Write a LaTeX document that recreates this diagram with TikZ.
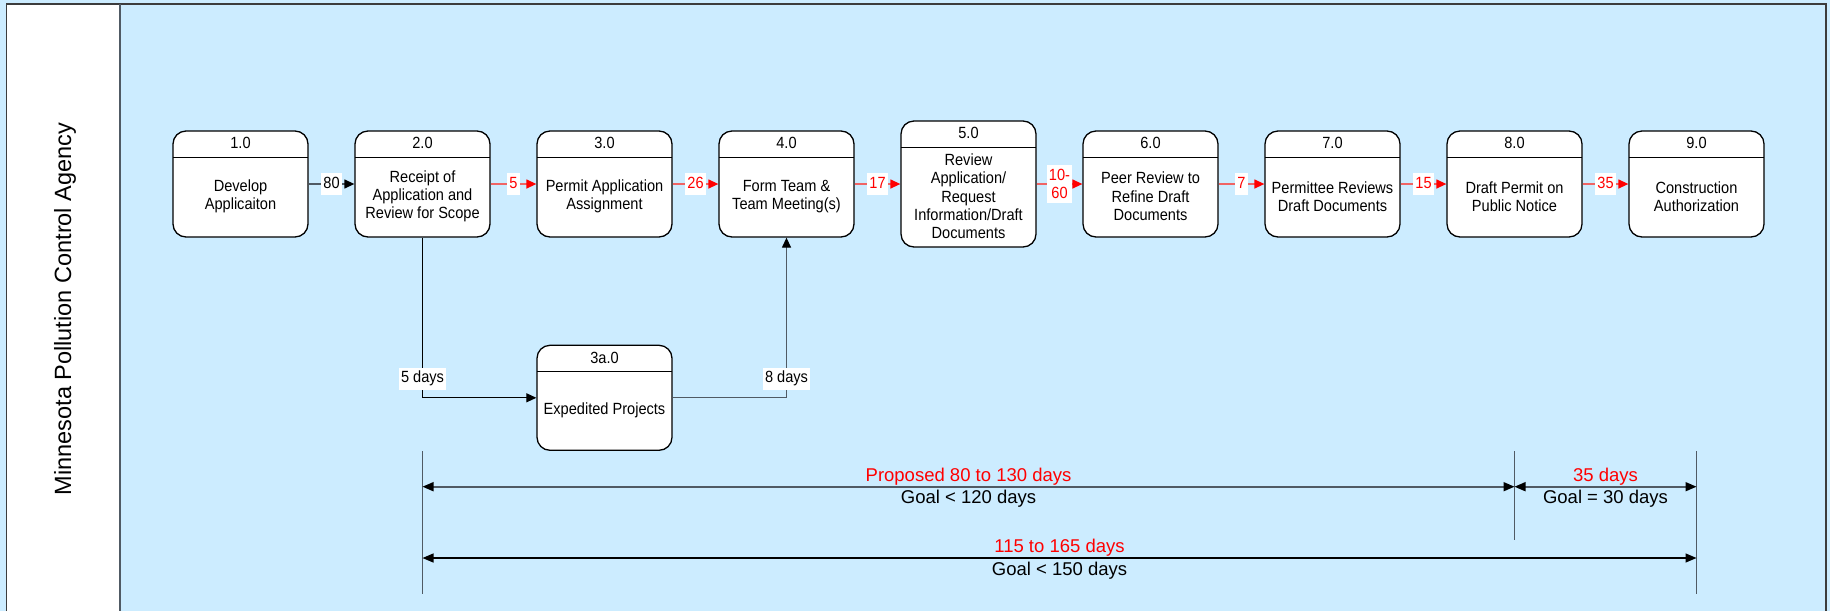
\documentclass[tikz,border=0pt]{standalone}
\usepackage{fontspec}
\setmainfont{Liberation Sans}
\newfontfamily\narrowface{Liberation Sans}[FakeStretch=0.9]
\usetikzlibrary{arrows.meta, chains, positioning}
\definecolor{laneblue}{RGB}{204,236,255}
\definecolor{flowred}{RGB}{240,100,100}
\definecolor{linegray}{RGB}{80,90,100}
\definecolor{framegray}{RGB}{60,60,60}
\newcommand\boxfont{\narrowface\fontsize{16.2}{18.3}\selectfont}
\newcommand\dimfont{\fontsize{18.5}{22}\selectfont}
\tikzset{
  proc/.style 2 args={
    rectangle,
    rounded corners=13pt,
    minimum width=135pt,
    minimum height=106pt,
    draw=black,
    line width=1.3pt,
    fill=white,
    path picture={\draw[line width=1.3pt]
      ([yshift=-26.5pt]path picture bounding box.north west) --
      ([yshift=-26.5pt]path picture bounding box.north east);},
    label={[numtext]north:#1},
    label={[bodytext]center:#2}
  },
  numtext/.style={anchor=center, yshift=-13pt, font=\boxfont},
  bodytext/.style={anchor=center, yshift=-12.5pt, align=center, font=\boxfont},
  flowarrow/.style={line width=1.3pt, draw=linegray,
    -{Triangle[length=10pt,width=9pt,color=black,fill=black]}},
  redarrow/.style={line width=1.3pt, draw=flowred,
    -{Triangle[length=10pt,width=9pt,color=red,fill=red]}},
  sideline/.style={line width=1.1pt, draw=black,
    -{Triangle[length=10pt,width=9pt,color=black,fill=black]}},
  daylbl/.style={fill=white, inner xsep=2pt, inner ysep=3pt,
    text height=12pt, text depth=4pt, font=\boxfont},
  redlbl/.style={daylbl, text=red, align=center},
  tickline/.style={line width=1.3pt, draw=linegray},
  dimline/.style={line width=1.6pt, draw=linegray,
    {Triangle[length=11pt,width=9pt,color=black,fill=black]}-{Triangle[length=11pt,width=9pt,color=black,fill=black]}},
  proplbl/.style={above=1pt, inner sep=0pt, text=red, font=\dimfont},
  goallbl/.style={below=3pt, inner sep=0pt, font=\dimfont}
}
\begin{document}
\begin{tikzpicture}[
      x=1pt, y=1pt,
      start chain=going right,
      node distance=45.7pt
      ]
      \useasboundingbox (0,0) rectangle (1830,-611);
      % lane
      \fill[laneblue] (0,0) rectangle (1830,-611);
      \fill[white] (6.5,-4) rectangle (120,-611);
      \draw[framegray, line width=1.6pt] (6.5,-611) -- (6.5,-4) -- (1826,-4) -- (1826,-611);
      \draw[linegray, line width=1.5pt] (120,-4) -- (120,-611);
      \node (lane) [rotate=90, font=\fontsize{23.5}{28}\selectfont] at (65,-309) {Minnesota Pollution Control Agency};

      % process steps
      \node (p1) [proc={1.0}{Develop\\Applicaiton}, on chain] at (240.5,-184) {};
      \node (p2) [proc={2.0}{Receipt of\\Application and\\Review for Scope}, on chain] {};
      \node (p3) [proc={3.0}{Permit Application\\Assignment}, on chain] {};
      \node (p4) [proc={4.0}{Form Team \&\\Team Meeting(s)}, on chain] {};
      \node (p5) [proc={5.0}{Review\\Application/\\Request\\Information/Draft\\Documents}, minimum height=126pt, on chain] {};
      \node (p6) [proc={6.0}{Peer Review to\\Refine Draft\\Documents}, on chain] {};
      \node (p7) [proc={7.0}{Permittee Reviews\\Draft Documents}, on chain] {};
      \node (p8) [proc={8.0}{Draft Permit on\\Public Notice}, on chain] {};
      \node (p9) [proc={9.0}{Construction\\Authorization}, on chain] {};
      \node (p3a) [proc={3a.0}{Expedited Projects}, minimum height=105pt, below=107pt of p3] {};

      % flow
      \draw[flowarrow] (p1) -- node[daylbl]{80} (p2);
      \foreach \a/\b/\d in {p2/p3/5, p3/p4/26, p4/p5/17, p6/p7/7, p7/p8/15, p8/p9/35}
        \draw[redarrow] (\a) -- node[redlbl]{\d} (\b);
      \draw[redarrow] (p5) -- node[redlbl, text height=, text depth=, inner ysep=4pt]{10-\\60} (p6);

      % expedited path
      \draw[sideline] (p2) |- node[daylbl, pos=0.44]{5 days} (p3a);
      \draw[sideline, draw=linegray, line width=1.3pt] (p3a) -| node[daylbl, pos=0.56]{8 days} (p4);

      % durations
      \coordinate (dtop) at (0,-451);
      \coordinate (dmid) at (0,-540);
      \coordinate (dlow) at (0,-594);
      \coordinate (drow1) at (0,-486.7);
      \coordinate (drow2) at (0,-558);
      \draw[tickline] (p2 |- dtop) -- (p2 |- dlow);
      \draw[tickline] (p8 |- dtop) -- (p8 |- dmid);
      \draw[tickline] (p9 |- dtop) -- (p9 |- dlow);
      \coordinate (g1) at (p2 |- drow1);
      \coordinate (g2) at (p8 |- drow1);
      \coordinate (g3) at (p9 |- drow1);
      \coordinate (h1) at (p2 |- drow2);
      \coordinate (h3) at (p9 |- drow2);
      \draw[dimline] (g1) -- node[proplbl]{Proposed 80 to 130 days} node[goallbl]{Goal < 120 days} (g2);
      \draw[dimline] (g2) -- node[proplbl]{35 days} node[goallbl]{Goal = 30 days} (g3);
      \draw[dimline, draw=black, line width=1.3pt] (h1) -- node[proplbl]{115 to 165 days} node[goallbl]{Goal < 150 days} (h3);
    \end{tikzpicture}
\end{document}
